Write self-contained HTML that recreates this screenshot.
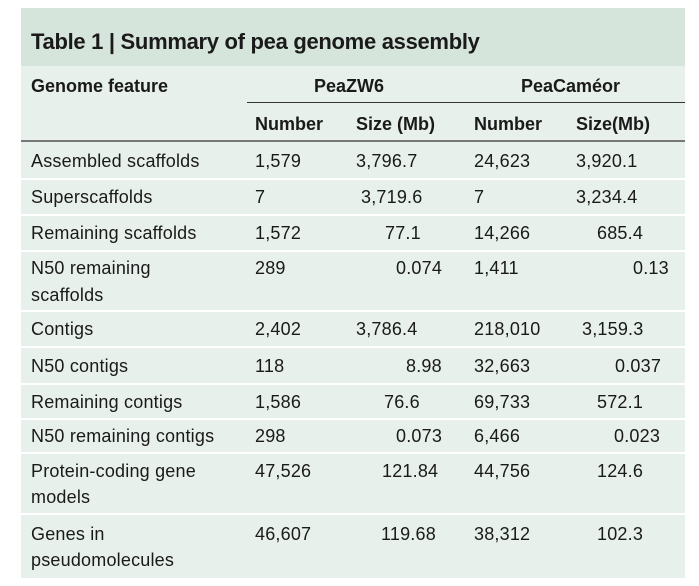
<!DOCTYPE html>
<html><head><meta charset="utf-8"><style>
body{margin:0;width:699px;height:586px;background:#fff;position:relative;overflow:hidden;font-family:"Liberation Sans",sans-serif;color:#1a1a1a}
.p{position:absolute}
.t{position:absolute;font-size:18px;white-space:nowrap;line-height:20px;letter-spacing:0.2px}
.b{font-weight:bold;letter-spacing:0px}
.w{position:absolute;left:21px;width:664px;height:2px;background:#fff}
</style></head><body>
<div class="p" style="left:21px;top:8px;width:664px;height:58px;background:#d6e5dc"></div>
<div class="p" style="left:21px;top:66px;width:664px;height:512px;background:#e7f0ea"></div>
<div class="t b" style="left:31px;top:32px;font-size:22px;letter-spacing:-0.3px">Table 1 | Summary of pea genome assembly</div>
<div class="t b" style="left:31px;top:76px">Genome feature</div>
<div class="t b" style="left:314px;top:76px">PeaZW6</div>
<div class="t b" style="left:521px;top:76px">PeaCaméor</div>
<div class="p" style="left:247px;top:102px;width:438px;height:1px;background:#333"></div>
<div class="t b" style="left:255px;top:114px">Number</div>
<div class="t b" style="left:356px;top:114px">Size (Mb)</div>
<div class="t b" style="left:474px;top:114px">Number</div>
<div class="t b" style="left:576px;top:114px">Size(Mb)</div>
<div class="p" style="left:21px;top:140px;width:664px;height:2px;background:#777"></div>

<div class="t" style="left:31px;top:151px">Assembled scaffolds</div><div class="t" style="left:255px;top:151px">1,579</div><div class="t" style="left:356px;top:151px">3,796.7</div><div class="t" style="left:474px;top:151px">24,623</div><div class="t" style="left:576px;top:151px">3,920.1</div>
<div class="w" style="top:178px"></div>
<div class="t" style="left:31px;top:187px">Superscaffolds</div><div class="t" style="left:255px;top:187px">7</div><div class="t" style="left:361px;top:187px">3,719.6</div><div class="t" style="left:474px;top:187px">7</div><div class="t" style="left:576px;top:187px">3,234.4</div>
<div class="w" style="top:214px"></div>
<div class="t" style="left:31px;top:223px">Remaining scaffolds</div><div class="t" style="left:255px;top:223px">1,572</div><div class="t" style="left:385px;top:223px">77.1</div><div class="t" style="left:474px;top:223px">14,266</div><div class="t" style="left:597px;top:223px">685.4</div>
<div class="w" style="top:250px"></div>
<div class="t" style="left:31px;top:258px">N50 remaining</div><div class="t" style="left:31px;top:285px">scaffolds</div><div class="t" style="left:255px;top:258px">289</div><div class="t" style="left:396px;top:258px">0.074</div><div class="t" style="left:474px;top:258px">1,411</div><div class="t" style="left:633px;top:258px">0.13</div>
<div class="w" style="top:310px"></div>
<div class="t" style="left:31px;top:319px">Contigs</div><div class="t" style="left:255px;top:319px">2,402</div><div class="t" style="left:356px;top:319px">3,786.4</div><div class="t" style="left:474px;top:319px">218,010</div><div class="t" style="left:582px;top:319px">3,159.3</div>
<div class="w" style="top:346px"></div>
<div class="t" style="left:31px;top:356px">N50 contigs</div><div class="t" style="left:255px;top:356px">118</div><div class="t" style="left:406px;top:356px">8.98</div><div class="t" style="left:474px;top:356px">32,663</div><div class="t" style="left:615px;top:356px">0.037</div>
<div class="w" style="top:383px"></div>
<div class="t" style="left:31px;top:392px">Remaining contigs</div><div class="t" style="left:255px;top:392px">1,586</div><div class="t" style="left:384px;top:392px">76.6</div><div class="t" style="left:474px;top:392px">69,733</div><div class="t" style="left:597px;top:392px">572.1</div>
<div class="w" style="top:418px"></div>
<div class="t" style="left:31px;top:426px">N50 remaining contigs</div><div class="t" style="left:255px;top:426px">298</div><div class="t" style="left:396px;top:426px">0.073</div><div class="t" style="left:474px;top:426px">6,466</div><div class="t" style="left:614px;top:426px">0.023</div>
<div class="w" style="top:452px"></div>
<div class="t" style="left:31px;top:461px">Protein-coding gene</div><div class="t" style="left:31px;top:487px">models</div><div class="t" style="left:255px;top:461px">47,526</div><div class="t" style="left:382px;top:461px">121.84</div><div class="t" style="left:474px;top:461px">44,756</div><div class="t" style="left:597px;top:461px">124.6</div>
<div class="w" style="top:513px"></div>
<div class="t" style="left:31px;top:524px">Genes in</div><div class="t" style="left:31px;top:550px">pseudomolecules</div><div class="t" style="left:255px;top:524px">46,607</div><div class="t" style="left:381px;top:524px">119.68</div><div class="t" style="left:474px;top:524px">38,312</div><div class="t" style="left:597px;top:524px">102.3</div>
</body></html>
